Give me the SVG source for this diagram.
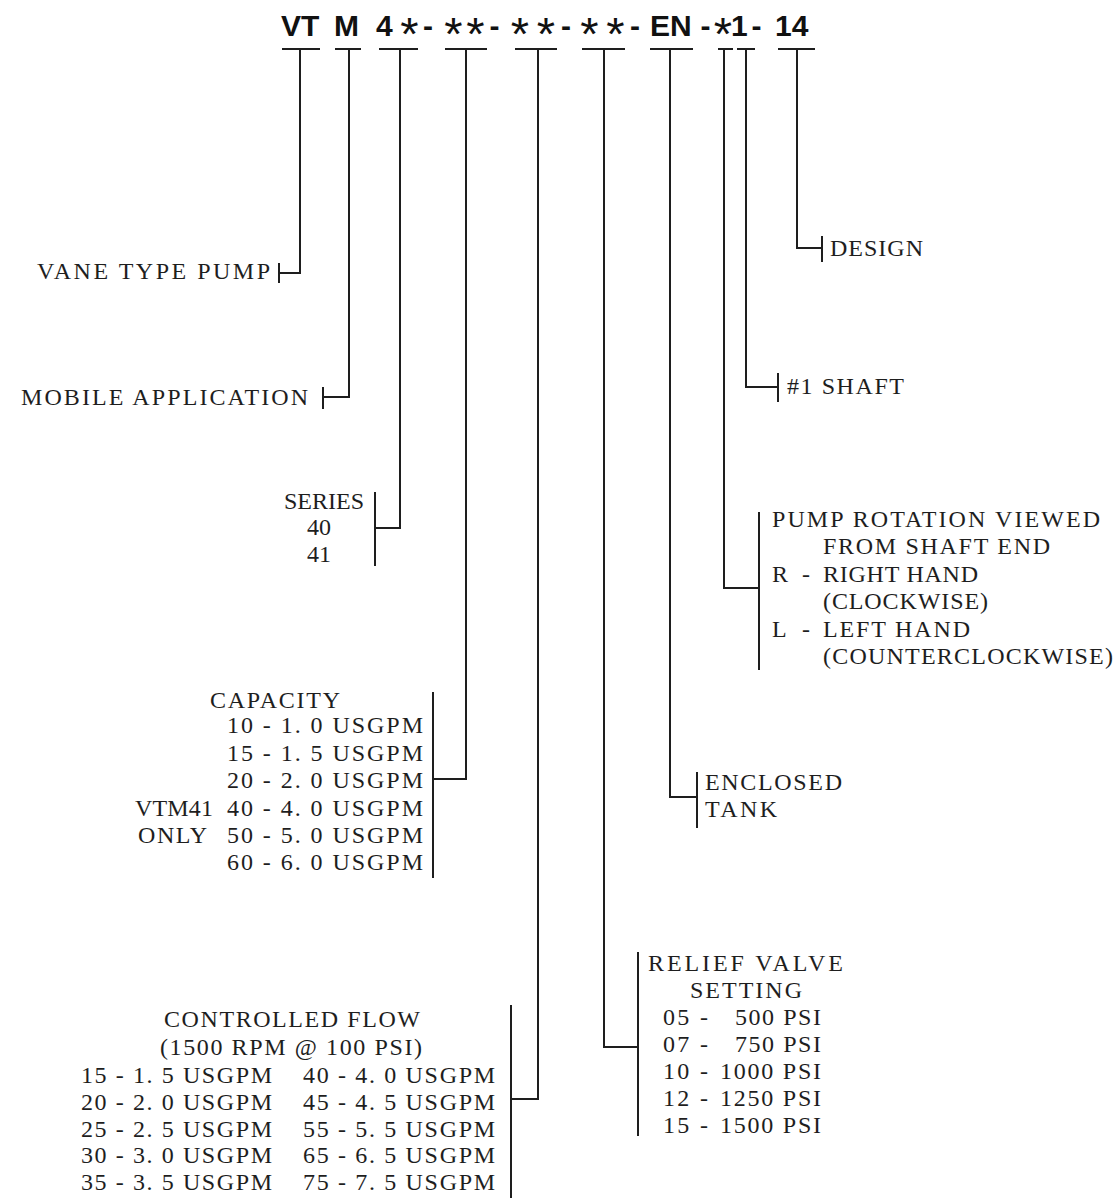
<svg xmlns="http://www.w3.org/2000/svg" width="1117" height="1200" viewBox="0 0 1117 1200">
<style>
.lbl{font-family:"Liberation Serif","Times New Roman",serif;font-size:24px;fill:#1e1e1e}
.code{font-family:"Liberation Sans",Arial,sans-serif;font-size:30px;font-weight:bold;fill:#111}
.ast{font-family:"Liberation Sans",Arial,sans-serif;font-size:47px;font-weight:normal;fill:#111;text-anchor:middle}
.ln{fill:none;stroke:#1e1e1e;stroke-width:2}
</style>
<rect width="1117" height="1200" fill="#fff"/>
<g id="code">
<text class="code" y="36"><tspan x="281">VT</tspan><tspan x="334">M</tspan><tspan x="376">4</tspan><tspan x="423">-</tspan><tspan x="489.5">-</tspan><tspan x="561">-</tspan><tspan x="630">-</tspan><tspan x="650">EN</tspan><tspan x="700.5">-</tspan><tspan x="731">1</tspan><tspan x="751.5">-</tspan><tspan x="775">14</tspan></text>
<text class="ast" y="50"><tspan x="409.5">*</tspan><tspan x="453.5">*</tspan><tspan x="475.5">*</tspan><tspan x="520">*</tspan><tspan x="546">*</tspan><tspan x="589.5">*</tspan><tspan x="615.5">*</tspan><tspan x="723">*</tspan></text>
</g>
<g id="connectors" class="ln">
<path d="M282,49H320M300,49V273H279M279,263V283"/>
<path d="M335,49H361M349,49V397H323M323,387V409"/>
<path d="M379,49H418M400,49V528H375M375,492V566"/>
<path d="M445,49H487M466,49V779H433M433,692V878"/>
<path d="M515,49H557M538,49V1099H511M511,1005V1198"/>
<path d="M582,49H625M604,49V1047H638M638,952V1136"/>
<path d="M650,49H693M670,49V797H697M697,772V828"/>
<path d="M718,49H733M724,49V588H759M759,512V670"/>
<path d="M737,49H755M746,49V387H778M778,373V402"/>
<path d="M778,49H815M797,49V248H822M822,236V262"/>
</g>
<g id="vane-type-pump"><text class="lbl" x="37" y="279" textLength="233" lengthAdjust="spacing">VANE TYPE PUMP</text></g>
<g id="mobile-application"><text class="lbl" x="21" y="405" textLength="287" lengthAdjust="spacing">MOBILE APPLICATION</text></g>
<g id="series">
<text class="lbl" x="364" y="509" text-anchor="end">SERIES</text>
<text class="lbl" x="307" y="535">40</text>
<text class="lbl" x="307" y="562">41</text>
</g>
<g id="capacity">
<text class="lbl" x="210" y="708" textLength="130" lengthAdjust="spacing">CAPACITY</text>
<text class="lbl" x="227" y="733" textLength="196" lengthAdjust="spacing">10 - 1. 0 USGPM</text>
<text class="lbl" x="227" y="761" textLength="196" lengthAdjust="spacing">15 - 1. 5 USGPM</text>
<text class="lbl" x="227" y="788" textLength="196" lengthAdjust="spacing">20 - 2. 0 USGPM</text>
<text class="lbl" x="135" y="816" textLength="78" lengthAdjust="spacing">VTM41</text>
<text class="lbl" x="227" y="816" textLength="196" lengthAdjust="spacing">40 - 4. 0 USGPM</text>
<text class="lbl" x="138" y="843" textLength="69" lengthAdjust="spacing">ONLY</text>
<text class="lbl" x="227" y="843" textLength="196" lengthAdjust="spacing">50 - 5. 0 USGPM</text>
<text class="lbl" x="227" y="870" textLength="196" lengthAdjust="spacing">60 - 6. 0 USGPM</text>
</g>
<g id="controlled-flow">
<text class="lbl" x="164" y="1027" textLength="256" lengthAdjust="spacing">CONTROLLED FLOW</text>
<text class="lbl" x="160" y="1055" textLength="262" lengthAdjust="spacing">(1500 RPM @ 100 PSI)</text>
<text class="lbl" x="81" y="1083" textLength="191" lengthAdjust="spacing">15 - 1. 5 USGPM</text>
<text class="lbl" x="303" y="1083" textLength="192" lengthAdjust="spacing">40 - 4. 0 USGPM</text>
<text class="lbl" x="81" y="1110" textLength="191" lengthAdjust="spacing">20 - 2. 0 USGPM</text>
<text class="lbl" x="303" y="1110" textLength="192" lengthAdjust="spacing">45 - 4. 5 USGPM</text>
<text class="lbl" x="81" y="1137" textLength="191" lengthAdjust="spacing">25 - 2. 5 USGPM</text>
<text class="lbl" x="303" y="1137" textLength="192" lengthAdjust="spacing">55 - 5. 5 USGPM</text>
<text class="lbl" x="81" y="1163" textLength="191" lengthAdjust="spacing">30 - 3. 0 USGPM</text>
<text class="lbl" x="303" y="1163" textLength="192" lengthAdjust="spacing">65 - 6. 5 USGPM</text>
<text class="lbl" x="81" y="1190" textLength="191" lengthAdjust="spacing">35 - 3. 5 USGPM</text>
<text class="lbl" x="303" y="1190" textLength="192" lengthAdjust="spacing">75 - 7. 5 USGPM</text>
</g>
<g id="relief-valve">
<text class="lbl" x="648" y="971" textLength="195" lengthAdjust="spacing">RELIEF VALVE</text>
<text class="lbl" x="690" y="998" textLength="112" lengthAdjust="spacing">SETTING</text>
<text class="lbl" x="663" y="1025" textLength="45" lengthAdjust="spacing">05 -</text>
<text class="lbl" x="735" y="1025" textLength="86" lengthAdjust="spacing">500 PSI</text>
<text class="lbl" x="663" y="1052" textLength="45" lengthAdjust="spacing">07 -</text>
<text class="lbl" x="735" y="1052" textLength="86" lengthAdjust="spacing">750 PSI</text>
<text class="lbl" x="663" y="1079" textLength="45" lengthAdjust="spacing">10 -</text>
<text class="lbl" x="720" y="1079" textLength="101" lengthAdjust="spacing">1000 PSI</text>
<text class="lbl" x="663" y="1106" textLength="45" lengthAdjust="spacing">12 -</text>
<text class="lbl" x="720" y="1106" textLength="101" lengthAdjust="spacing">1250 PSI</text>
<text class="lbl" x="663" y="1133" textLength="45" lengthAdjust="spacing">15 -</text>
<text class="lbl" x="720" y="1133" textLength="101" lengthAdjust="spacing">1500 PSI</text>
</g>
<g id="enclosed-tank">
<text class="lbl" x="705" y="790" textLength="137" lengthAdjust="spacing">ENCLOSED</text>
<text class="lbl" x="705" y="817" textLength="72" lengthAdjust="spacing">TANK</text>
</g>
<g id="pump-rotation">
<text class="lbl" x="772" y="527" textLength="328" lengthAdjust="spacing">PUMP ROTATION VIEWED</text>
<text class="lbl" x="823" y="554" textLength="227" lengthAdjust="spacing">FROM SHAFT END</text>
<text class="lbl" x="772" y="582" textLength="38" lengthAdjust="spacing">R -</text>
<text class="lbl" x="823" y="582" textLength="155" lengthAdjust="spacing">RIGHT HAND</text>
<text class="lbl" x="823" y="609" textLength="165" lengthAdjust="spacing">(CLOCKWISE)</text>
<text class="lbl" x="772" y="637" textLength="38" lengthAdjust="spacing">L -</text>
<text class="lbl" x="823" y="637" textLength="147" lengthAdjust="spacing">LEFT HAND</text>
<text class="lbl" x="823" y="664" textLength="290" lengthAdjust="spacing">(COUNTERCLOCKWISE)</text>
</g>
<g id="shaft"><text class="lbl" x="787" y="394" textLength="117" lengthAdjust="spacing">#1 SHAFT</text></g>
<g id="design"><text class="lbl" x="830" y="256" textLength="93" lengthAdjust="spacing">DESIGN</text></g>
</svg>
